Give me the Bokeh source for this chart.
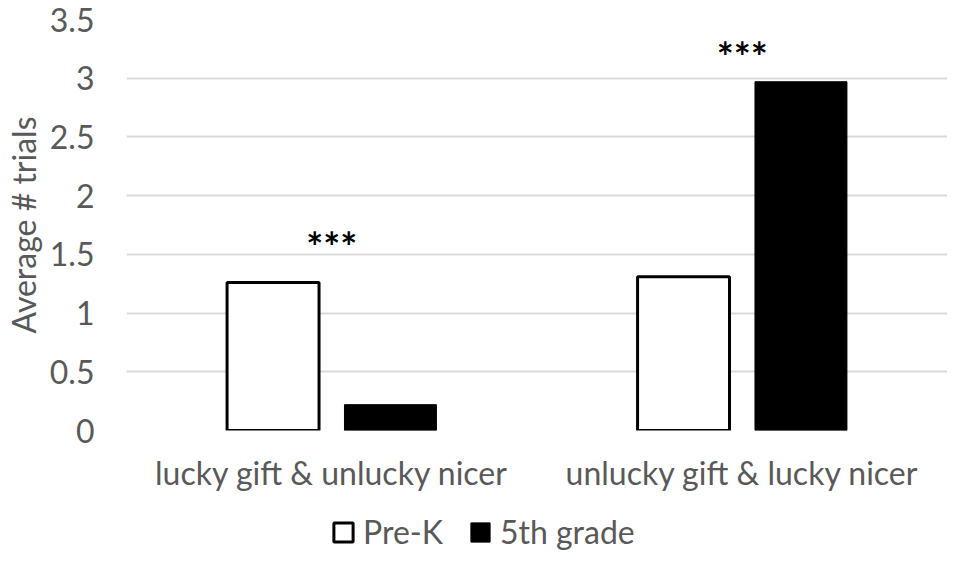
from bokeh.plotting import figure
from bokeh.layouts import column
from bokeh.models import (FactorRange, Legend, LegendItem, ColumnDataSource, Range1d,
                          FixedTicker, NumeralTickFormatter)
from bokeh.transform import dodge
from bokeh.core.properties import value
from bokeh.embed import file_html
from bokeh.resources import INLINE

categories = ["lucky gift & unlucky nicer", "unlucky gift & lucky nicer"]
prek = [1.26, 1.31]
grade5 = [0.22, 2.97]
series_names = ["Pre-K", "5th grade"]
sig_labels = ["***", "***"]
sig_y = [1.56, 3.18]
y_ticks = [0, 0.5, 1, 1.5, 2, 2.5, 3, 3.5]

FONT = "Lato"
GRAY = "#595959"
PREK_STYLE = dict(fill_color="white", line_color="black", line_width=3)
G5_STYLE = dict(fill_color="black", line_color="black", line_width=1)

src = ColumnDataSource(dict(cat=categories, prek=prek, grade5=grade5))
sig_src = ColumnDataSource(dict(cat=categories, y=sig_y, txt=sig_labels))

p = figure(x_range=FactorRange(*categories), y_range=Range1d(0, 3.5),
           width=947, height=502, output_backend="svg", toolbar_location=None,
           min_border_left=117, min_border_right=0, min_border_top=19,
           min_border_bottom=72)
p.outline_line_color = None
p.background_fill_color = "white"
p.border_fill_color = "white"

p.vbar(x=dodge("cat", -0.143, range=p.x_range), top="prek", width=0.224,
       source=src, **PREK_STYLE)
p.vbar(x=dodge("cat", 0.143, range=p.x_range), top="grade5", width=0.224,
       source=src, **G5_STYLE)

p.text(x="cat", y="y", text="txt", source=sig_src, text_align="center",
       text_baseline="middle", text_font=value(FONT), text_font_style="bold",
       text_font_size="40px", text_color="black")

p.xgrid.grid_line_color = None
p.ygrid.grid_line_color = "#d9d9d9"
p.ygrid.grid_line_width = 2

p.yaxis.ticker = FixedTicker(ticks=y_ticks)
p.yaxis.formatter = NumeralTickFormatter(format="0.[0]")
for ax in (p.xaxis[0], p.yaxis[0]):
    ax.axis_line_color = None
    ax.major_tick_line_color = None
    ax.minor_tick_line_color = None
    ax.major_label_text_font = FONT
    ax.major_label_text_font_size = "32px"
    ax.major_label_text_color = GRAY

p.yaxis.major_label_standoff = 26
p.yaxis.axis_label = "Average # trials"
p.yaxis.axis_label_text_font = FONT
p.yaxis.axis_label_text_font_size = "32px"
p.yaxis.axis_label_text_font_style = "normal"
p.yaxis.axis_label_text_color = GRAY
p.yaxis.axis_label_standoff = 4

p.xaxis.major_label_standoff = 16
p.xaxis.separator_line_color = None

# legend strip below the chart; the key renderers reuse the series source on a
# numeric range, so they draw nothing themselves and only supply legend styles
lf = figure(width=947, height=49, output_backend="svg", toolbar_location=None,
            x_range=Range1d(0, 1), y_range=Range1d(0, 1),
            x_axis_type=None, y_axis_type=None,
            min_border_left=0, min_border_right=0, min_border_top=0,
            min_border_bottom=0)
lf.outline_line_color = None
lf.xgrid.visible = False
lf.ygrid.visible = False
k1 = lf.vbar(x="cat", top="prek", width=0.1, source=src, **PREK_STYLE)
k2 = lf.vbar(x="cat", top="grade5", width=0.1, source=src, **G5_STYLE)
legend = Legend(items=[LegendItem(label=series_names[0], renderers=[k1]),
                       LegendItem(label=series_names[1], renderers=[k2])],
                orientation="horizontal", location=(205, 0),
                border_line_color=None, background_fill_alpha=0,
                glyph_width=24, glyph_height=24, label_standoff=8, spacing=25,
                padding=0, margin=0, label_text_font=FONT,
                label_text_font_size="32px", label_text_color=GRAY)
lf.add_layout(legend)

layout = column(p, lf, spacing=0)
open("out.html", "w").write(file_html(layout, INLINE))
